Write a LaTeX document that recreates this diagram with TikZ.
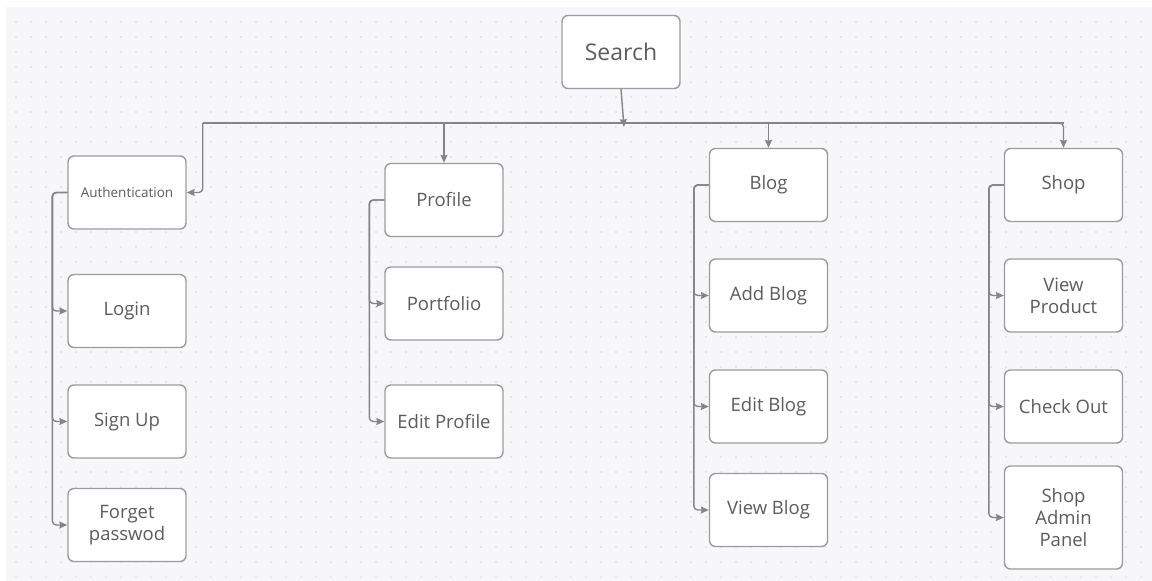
\documentclass[tikz,border=0pt]{standalone}
\usepackage{fontspec}
\setmainfont{Open Sans}
\usetikzlibrary{arrows.meta,positioning}
\definecolor{boxline}{HTML}{9C9C9C}
\definecolor{wire}{HTML}{858585}
\definecolor{ink}{HTML}{5C5C5C}
\definecolor{canvas}{HTML}{F7F7F9}
\definecolor{griddot}{HTML}{D6D6DC}
\tikzset{every picture/.style={>={Stealth[length=8pt,width=7pt,inset=1pt]}},
  card/.style={draw=boxline,line width=1.4pt,fill=white,rounded corners=6pt,
    minimum width=118pt,minimum height=73pt,align=center,text=ink,
    font=\fontsize{18.5}{22}\selectfont},
  conn/.style={draw=wire,line width=1.4pt,rounded corners=4pt}}

\begin{document}
\begin{tikzpicture}[x=1pt,y=-1pt]
  \useasboundingbox (0,0) rectangle (1152,581);
  \fill[white] (0,0) rectangle (1152,581);
  \fill[canvas] (6,7) rectangle (1152,581);
  \foreach \gx in {16,31,...,1150} \foreach \gy in {22,37,...,580}
    \fill[griddot] (\gx,\gy) circle (0.9pt);

  \node[card,font=\fontsize{23}{27}\selectfont] (search) at (621,52) {Search};

  % authentication
  \node[card,font=\fontsize{13.5}{16}\selectfont] (auth) at (127,192.5) {Authentication};
  \node[card] (login) at (127,311) {Login};
  \node[card] (signup) at (127,421.5) {Sign Up};
  \node[card] (forget) at (127,525) {Forget\\passwod};

  % profile
  \node[card] (profile) at (444,200) {Profile};
  \node[card] (portfolio) at (444,303.5) {Portfolio};
  \node[card] (editprofile) at (444,421.5) {Edit Profile};

  % blog
  \node[card] (blog) at (768.5,185) {Blog};
  \node[card] (addblog) at (768.5,295.5) {Add Blog};
  \node[card] (editblog) at (768.5,406.5) {Edit Blog};
  \node[card] (viewblog) at (768.5,510) {View Blog};

  % shop
  \node[card] (shop) at (1063.5,185) {Shop};
  \node[card] (viewproduct) at (1063.5,295.5) {View\\Product};
  \node[card] (checkout) at (1063.5,406.5) {Check Out};
  \node[card,minimum height=103pt] (admin) at (1063.5,517.5) {Shop\\Admin\\Panel};

  % bus from search
  \coordinate (bus) at (624,123);
  \draw[conn,->] (search.south) -- ([yshift=-4pt]bus);
  \draw[conn] ([xshift=16pt]bus -| auth.east) -- (bus -| shop.north);
  \draw[conn,->] ([xshift=16pt]bus -| auth.east) |- (auth.east);
  \draw[conn,->] (bus -| profile.north) -- (profile.north);
  \draw[conn,->] (bus -| blog.north) -- (blog.north);
  \draw[conn,->] (bus) -| (shop.north);

  % rails
  \foreach \top/\kid in {auth/login,auth/signup,auth/forget,
      profile/portfolio,profile/editprofile,
      blog/addblog,blog/editblog,blog/viewblog,
      shop/viewproduct,shop/checkout,shop/admin}
    \draw[conn,->] (\top.west) -- ++(-15,0) |- (\kid.west);
\end{tikzpicture}
\end{document}
